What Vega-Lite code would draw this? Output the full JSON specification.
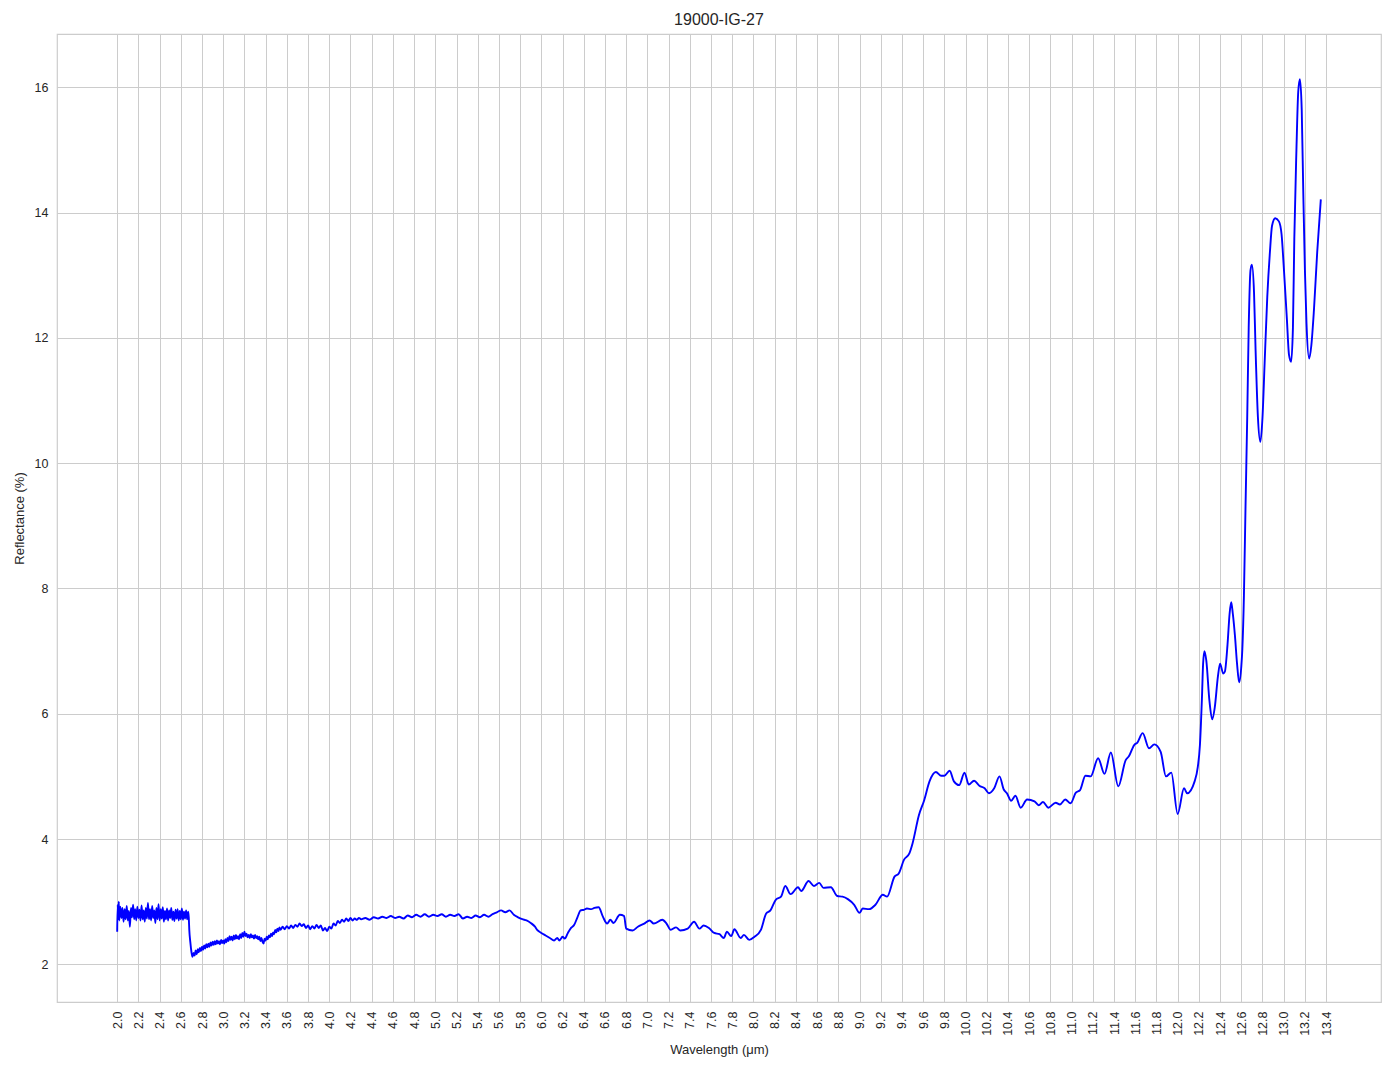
{
  "$schema": "https://vega.github.io/schema/vega-lite/v6.json",
  "width": 1324,
  "height": 968,
  "autosize": {"type": "none"},
  "padding": {"left": 57, "top": 34, "right": 13, "bottom": 67},
  "background": "white",
  "config": {
    "font": "Liberation Sans",
    "view": {"stroke": "#cccccc", "strokeWidth": 1.2},
    "axis": {"grid": true, "gridColor": "#cccccc", "gridWidth": 1, "domain": false, "ticks": false, "labelColor": "#262626", "titleColor": "#262626", "labelFontSize": 12.5, "titleFontSize": 13, "titleFontWeight": "normal", "labelFont": "Liberation Sans", "titleFont": "Liberation Sans"}
  },
  "title": {"text": "19000-IG-27", "fontSize": 16, "fontWeight": "normal", "color": "#262626", "font": "Liberation Sans", "offset": 6},
  "data": {"values": [
    {"x":2.000,"y":2.52},{"x":2.005,"y":2.95},{"x":2.010,"y":2.72},{"x":2.015,"y":3.00},{"x":2.02,"y":2.70},{"x":2.03,"y":2.92},{"x":2.04,"y":2.74},{"x":2.05,"y":2.90},{"x":2.06,"y":2.68},{"x":2.07,"y":2.88},{"x":2.08,"y":2.72},{"x":2.09,"y":2.93},{"x":2.10,"y":2.70},{"x":2.11,"y":2.85},{"x":2.12,"y":2.60},{"x":2.13,"y":2.90},{"x":2.14,"y":2.75},{"x":2.15,"y":2.95},{"x":2.16,"y":2.72},{"x":2.17,"y":2.88},{"x":2.18,"y":2.70},{"x":2.19,"y":2.92},{"x":2.20,"y":2.74},{"x":2.21,"y":2.87},{"x":2.22,"y":2.70},{"x":2.23,"y":2.94},{"x":2.24,"y":2.72},{"x":2.25,"y":2.86},{"x":2.26,"y":2.68},{"x":2.27,"y":2.90},{"x":2.28,"y":2.73},{"x":2.29,"y":2.98},{"x":2.30,"y":2.72},{"x":2.31,"y":2.88},{"x":2.32,"y":2.70},{"x":2.33,"y":2.93},{"x":2.34,"y":2.74},{"x":2.35,"y":2.86},{"x":2.36,"y":2.66},{"x":2.37,"y":2.90},{"x":2.38,"y":2.72},{"x":2.39,"y":2.96},{"x":2.40,"y":2.70},{"x":2.41,"y":2.88},{"x":2.42,"y":2.73},{"x":2.43,"y":2.91},{"x":2.44,"y":2.68},{"x":2.45,"y":2.85},{"x":2.46,"y":2.72},{"x":2.47,"y":2.89},{"x":2.48,"y":2.70},{"x":2.49,"y":2.86},{"x":2.50,"y":2.74},{"x":2.51,"y":2.90},{"x":2.52,"y":2.71},{"x":2.53,"y":2.84},{"x":2.54,"y":2.69},{"x":2.55,"y":2.87},{"x":2.56,"y":2.73},{"x":2.57,"y":2.88},{"x":2.58,"y":2.70},{"x":2.59,"y":2.85},{"x":2.60,"y":2.72},{"x":2.61,"y":2.89},{"x":2.62,"y":2.71},{"x":2.63,"y":2.84},{"x":2.64,"y":2.73},{"x":2.65,"y":2.86},{"x":2.66,"y":2.72},{"x":2.67,"y":2.84},{"x":2.675,"y":2.75},{"x":2.68,"y":2.55},{"x":2.69,"y":2.35},{"x":2.70,"y":2.20},{"x":2.71,"y":2.12},{"x":2.72,"y":2.18},{"x":2.73,"y":2.14},
    {"x":2.74,"y":2.22},{"x":2.75,"y":2.16},{"x":2.76,"y":2.24},{"x":2.77,"y":2.19},{"x":2.78,"y":2.26},{"x":2.79,"y":2.21},{"x":2.80,"y":2.28},{"x":2.81,"y":2.23},{"x":2.82,"y":2.30},{"x":2.83,"y":2.25},{"x":2.84,"y":2.32},{"x":2.85,"y":2.27},{"x":2.86,"y":2.33},{"x":2.87,"y":2.28},{"x":2.88,"y":2.35},{"x":2.89,"y":2.30},{"x":2.90,"y":2.36},{"x":2.91,"y":2.31},{"x":2.92,"y":2.37},{"x":2.93,"y":2.32},{"x":2.94,"y":2.38},{"x":2.95,"y":2.33},{"x":2.96,"y":2.37},{"x":2.97,"y":2.32},{"x":2.98,"y":2.39},{"x":2.99,"y":2.34},{"x":3.00,"y":2.38},{"x":3.01,"y":2.33},{"x":3.02,"y":2.40},{"x":3.03,"y":2.35},{"x":3.04,"y":2.42},{"x":3.05,"y":2.37},{"x":3.06,"y":2.45},{"x":3.07,"y":2.39},{"x":3.08,"y":2.44},{"x":3.09,"y":2.38},{"x":3.10,"y":2.46},{"x":3.11,"y":2.40},{"x":3.12,"y":2.47},{"x":3.13,"y":2.41},{"x":3.14,"y":2.45},{"x":3.15,"y":2.40},{"x":3.16,"y":2.48},{"x":3.17,"y":2.42},{"x":3.18,"y":2.50},{"x":3.19,"y":2.44},{"x":3.20,"y":2.52},{"x":3.21,"y":2.45},{"x":3.22,"y":2.49},{"x":3.23,"y":2.43},{"x":3.24,"y":2.47},{"x":3.25,"y":2.42},{"x":3.26,"y":2.48},{"x":3.27,"y":2.43},{"x":3.28,"y":2.46},{"x":3.29,"y":2.41},{"x":3.30,"y":2.47},{"x":3.31,"y":2.42},{"x":3.32,"y":2.45},{"x":3.33,"y":2.40},{"x":3.34,"y":2.44},{"x":3.35,"y":2.37},{"x":3.36,"y":2.42},{"x":3.37,"y":2.36},{"x":3.38,"y":2.33},{"x":3.39,"y":2.41},{"x":3.40,"y":2.38},{"x":3.41,"y":2.44},{"x":3.42,"y":2.40},{"x":3.43,"y":2.46},{"x":3.44,"y":2.43},{"x":3.45,"y":2.49},{"x":3.46,"y":2.45},{"x":3.47,"y":2.51},{"x":3.48,"y":2.48},{"x":3.49,"y":2.55},{"x":3.50,"y":2.51},{"x":3.51,"y":2.57},{"x":3.52,"y":2.53},{"x":3.53,"y":2.59},{"x":3.54,"y":2.55},{"x":3.56,"y":2.60},{"x":3.58,"y":2.56},{"x":3.60,"y":2.61},{"x":3.62,"y":2.57},{"x":3.64,"y":2.62},{"x":3.66,"y":2.58},{"x":3.68,"y":2.63},{"x":3.70,"y":2.60},{"x":3.72,"y":2.65},{"x":3.74,"y":2.61},{"x":3.76,"y":2.64},{"x":3.78,"y":2.58},{"x":3.80,"y":2.62},{"x":3.82,"y":2.56},{"x":3.84,"y":2.61},{"x":3.86,"y":2.57},{"x":3.88,"y":2.63},{"x":3.90,"y":2.58},{"x":3.92,"y":2.62},{"x":3.94,"y":2.54},{"x":3.96,"y":2.58},{"x":3.98,"y":2.53},{"x":4.00,"y":2.60},{"x":4.02,"y":2.57},{"x":4.04,"y":2.65},{"x":4.06,"y":2.62},{"x":4.08,"y":2.69},{"x":4.10,"y":2.66},{"x":4.12,"y":2.71},{"x":4.14,"y":2.68},{"x":4.16,"y":2.73},{"x":4.18,"y":2.69},{"x":4.20,"y":2.74},{"x":4.22,"y":2.70},{"x":4.24,"y":2.73},{"x":4.26,"y":2.71},{"x":4.28,"y":2.74},
    {"x":4.30,"y":2.72},{"x":4.34,"y":2.74},{"x":4.38,"y":2.71},{"x":4.42,"y":2.75},{"x":4.46,"y":2.73},{"x":4.50,"y":2.76},{"x":4.54,"y":2.74},{"x":4.58,"y":2.77},{"x":4.62,"y":2.74},{"x":4.66,"y":2.76},{"x":4.70,"y":2.73},{"x":4.74,"y":2.78},{"x":4.78,"y":2.75},{"x":4.82,"y":2.79},{"x":4.86,"y":2.76},{"x":4.90,"y":2.80},{"x":4.94,"y":2.76},{"x":4.98,"y":2.79},{"x":5.02,"y":2.77},{"x":5.06,"y":2.80},{"x":5.10,"y":2.76},{"x":5.14,"y":2.79},{"x":5.18,"y":2.77},{"x":5.22,"y":2.80},{"x":5.26,"y":2.73},{"x":5.30,"y":2.76},{"x":5.34,"y":2.74},{"x":5.38,"y":2.78},{"x":5.42,"y":2.75},{"x":5.46,"y":2.79},{"x":5.50,"y":2.76},{"x":5.54,"y":2.80},{"x":5.58,"y":2.83},{"x":5.62,"y":2.86},{"x":5.66,"y":2.83},{"x":5.70,"y":2.86},{"x":5.74,"y":2.79},{"x":5.78,"y":2.75},{"x":5.82,"y":2.72},{"x":5.86,"y":2.70},{"x":5.90,"y":2.66},{"x":5.94,"y":2.60},{"x":5.96,"y":2.55},{"x":6.00,"y":2.50},{"x":6.04,"y":2.46},{"x":6.08,"y":2.42},{"x":6.12,"y":2.38},{"x":6.15,"y":2.42},{"x":6.17,"y":2.38},{"x":6.20,"y":2.44},{"x":6.22,"y":2.41},{"x":6.25,"y":2.50},{"x":6.28,"y":2.58},{"x":6.31,"y":2.63},{"x":6.34,"y":2.75},{"x":6.37,"y":2.86},{"x":6.40,"y":2.87},{"x":6.43,"y":2.89},{"x":6.47,"y":2.88},{"x":6.50,"y":2.90},{"x":6.54,"y":2.91},{"x":6.58,"y":2.76},{"x":6.62,"y":2.65},{"x":6.65,"y":2.71},{"x":6.68,"y":2.66},{"x":6.74,"y":2.79},{"x":6.78,"y":2.77},{"x":6.80,"y":2.57},{"x":6.86,"y":2.54},{"x":6.91,"y":2.60},{"x":6.97,"y":2.65},{"x":7.02,"y":2.70},{"x":7.06,"y":2.65},{"x":7.14,"y":2.71},{"x":7.18,"y":2.65},{"x":7.22,"y":2.55},{"x":7.27,"y":2.59},{"x":7.31,"y":2.54},{"x":7.38,"y":2.57},{"x":7.44,"y":2.68},{"x":7.49,"y":2.57},{"x":7.53,"y":2.62},{"x":7.58,"y":2.58},{"x":7.63,"y":2.50},{"x":7.68,"y":2.48},{"x":7.72,"y":2.42},{"x":7.75,"y":2.52},{"x":7.79,"y":2.45},{"x":7.82,"y":2.56},{"x":7.88,"y":2.42},{"x":7.91,"y":2.47},{"x":7.96,"y":2.39},{"x":8.01,"y":2.44},{"x":8.07,"y":2.55},{"x":8.12,"y":2.81},{"x":8.16,"y":2.86},{"x":8.21,"y":3.03},{"x":8.26,"y":3.08},{"x":8.30,"y":3.25},{"x":8.35,"y":3.12},{"x":8.42,"y":3.23},{"x":8.45,"y":3.17},{"x":8.52,"y":3.33},{"x":8.57,"y":3.25},{"x":8.62,"y":3.30},{"x":8.66,"y":3.22},{"x":8.73,"y":3.23},{"x":8.79,"y":3.09},{"x":8.84,"y":3.08},{"x":8.89,"y":3.04},{"x":8.95,"y":2.95},{"x":9.00,"y":2.82},{"x":9.03,"y":2.89},{"x":9.09,"y":2.88},{"x":9.15,"y":2.95},{"x":9.22,"y":3.11},{"x":9.26,"y":3.08},{"x":9.33,"y":3.40},{"x":9.37,"y":3.45},{"x":9.42,"y":3.67},{"x":9.47,"y":3.77},{"x":9.50,"y":3.93},{"x":9.56,"y":4.38},{"x":9.61,"y":4.62},{"x":9.66,"y":4.92},{"x":9.72,"y":5.07},{"x":9.77,"y":5.01},{"x":9.80,"y":5.01},{"x":9.85,"y":5.09},{"x":9.89,"y":4.92},{"x":9.94,"y":4.86},{"x":9.99,"y":5.06},{"x":10.03,"y":4.87},{"x":10.08,"y":4.93},{"x":10.13,"y":4.85},{"x":10.18,"y":4.81},{"x":10.22,"y":4.73},{"x":10.27,"y":4.81},{"x":10.32,"y":5.00},{"x":10.36,"y":4.79},{"x":10.39,"y":4.73},{"x":10.43,"y":4.61},{"x":10.47,"y":4.69},{"x":10.52,"y":4.50},{"x":10.58,"y":4.63},{"x":10.65,"y":4.60},{"x":10.69,"y":4.54},{"x":10.73,"y":4.59},{"x":10.78,"y":4.50},{"x":10.85,"y":4.58},{"x":10.89,"y":4.55},{"x":10.94,"y":4.63},{"x":10.99,"y":4.57},{"x":11.04,"y":4.74},{"x":11.08,"y":4.78},{"x":11.13,"y":5.01},{"x":11.18,"y":5.00},{"x":11.25,"y":5.29},{"x":11.31,"y":5.04},{"x":11.37,"y":5.38},{"x":11.44,"y":4.84},{"x":11.51,"y":5.26},{"x":11.54,"y":5.32},{"x":11.59,"y":5.50},{"x":11.62,"y":5.54},{"x":11.67,"y":5.69},{"x":11.73,"y":5.45},{"x":11.78,"y":5.51},{"x":11.84,"y":5.39},{"x":11.89,"y":5.00},{"x":11.94,"y":5.06},{"x":12.00,"y":4.40},{"x":12.06,"y":4.81},{"x":12.09,"y":4.73},{"x":12.16,"y":4.92},{"x":12.19,"y":5.15},{"x":12.21,"y":5.5},{"x":12.23,"y":6.3},{"x":12.24,"y":6.8},{"x":12.253,"y":7.00},{"x":12.27,"y":6.85},{"x":12.30,"y":6.2},{"x":12.326,"y":5.91},{"x":12.35,"y":6.1},{"x":12.38,"y":6.6},{"x":12.40,"y":6.80},{"x":12.43,"y":6.64},{"x":12.445,"y":6.67},{"x":12.47,"y":7.1},{"x":12.49,"y":7.6},{"x":12.505,"y":7.78},{"x":12.52,"y":7.6},{"x":12.54,"y":7.25},{"x":12.56,"y":6.8},{"x":12.58,"y":6.50},{"x":12.60,"y":6.75},{"x":12.61,"y":7.03},{"x":12.625,"y":7.89},{"x":12.64,"y":9.31},{"x":12.656,"y":10.73},{"x":12.67,"y":12.16},{"x":12.687,"y":13.08},{"x":12.70,"y":13.17},{"x":12.72,"y":12.73},{"x":12.735,"y":11.80},{"x":12.757,"y":10.73},{"x":12.78,"y":10.34},{"x":12.80,"y":10.73},{"x":12.82,"y":11.59},{"x":12.845,"y":12.65},{"x":12.87,"y":13.37},{"x":12.89,"y":13.79},{"x":12.92,"y":13.91},{"x":12.955,"y":13.86},{"x":12.98,"y":13.65},{"x":13.00,"y":13.15},{"x":13.03,"y":12.30},{"x":13.05,"y":11.73},{"x":13.07,"y":11.62},{"x":13.087,"y":12.16},{"x":13.10,"y":13.58},{"x":13.12,"y":15.0},{"x":13.137,"y":15.93},{"x":13.153,"y":16.13},{"x":13.17,"y":15.64},{"x":13.185,"y":14.29},{"x":13.20,"y":13.08},{"x":13.215,"y":12.23},{"x":13.24,"y":11.67},{"x":13.26,"y":11.87},{"x":13.285,"y":12.44},{"x":13.316,"y":13.37},{"x":13.35,"y":14.21}
  ]},
  "mark": {"type": "line", "color": "#0000ff", "strokeWidth": 1.9, "interpolate": "monotone", "clip": true},
  "encoding": {
    "x": {"field": "x", "type": "quantitative", "title": "Wavelength (μm)",
      "scale": {"domain": [1.4325, 13.9175], "nice": false, "zero": false},
      "axis": {"values": [2.0,2.2,2.4,2.6,2.8,3.0,3.2,3.4,3.6,3.8,4.0,4.2,4.4,4.6,4.8,5.0,5.2,5.4,5.6,5.8,6.0,6.2,6.4,6.6,6.8,7.0,7.2,7.4,7.6,7.8,8.0,8.2,8.4,8.6,8.8,9.0,9.2,9.4,9.6,9.8,10.0,10.2,10.4,10.6,10.8,11.0,11.2,11.4,11.6,11.8,12.0,12.2,12.4,12.6,12.8,13.0,13.2,13.4], "format": ".1f", "labelAngle": -90, "labelPadding": 9, "titlePadding": 8, "labelFlush": false, "labelOverlap": false}},
    "y": {"field": "y", "type": "quantitative", "title": "Reflectance (%)",
      "scale": {"domain": [1.398, 16.851], "nice": false, "zero": false},
      "axis": {"values": [2,4,6,8,10,12,14,16], "format": "d", "labelPadding": 9, "titlePadding": 8, "labelFlush": false}}
  }
}
